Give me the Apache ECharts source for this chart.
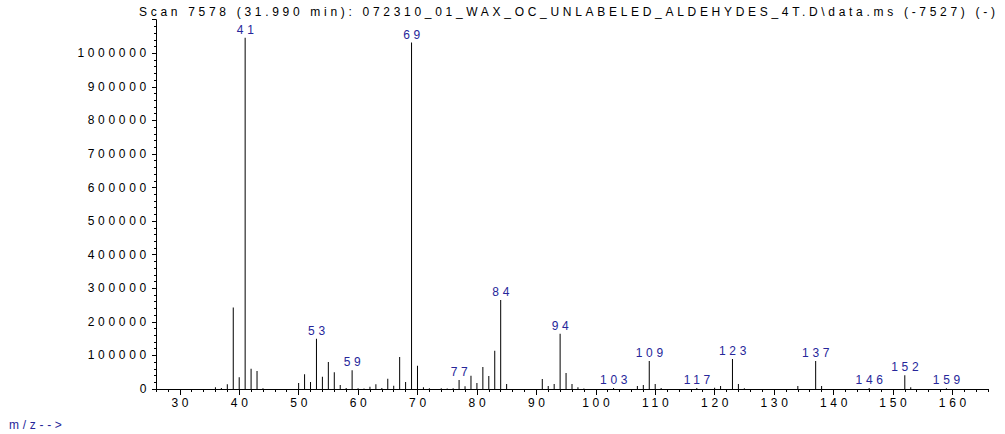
<!DOCTYPE html>
<html>
<head>
<meta charset="utf-8">
<title>Mass spectrum - scan 7578</title>
<script src="https://cdn.jsdelivr.net/npm/echarts@6/dist/echarts.min.js"></script>
<style>
  html, body { margin: 0; padding: 0; background: #fff; }
  #chart { width: 1005px; height: 434px; }
  /* instrument-style wide lettering */
  #chart svg text { letter-spacing: 3.7px; }
</style>
</head>
<body>
<div id="chart"></div>
<script>
// m/z values of the detected ions
const mz = [36, 37, 38, 39, 40, 41, 42, 43, 44, 50, 51, 52, 53, 54, 55, 56, 57, 58, 59, 60,
            61, 62, 63, 64, 65, 66, 67, 68, 69, 70, 71, 72, 74, 75, 76, 77, 78, 79, 80, 81,
            82, 83, 84, 85, 91, 92, 93, 94, 95, 96, 97, 98, 103, 107, 108, 109, 110, 111, 117, 120,
            121, 123, 124, 125, 134, 137, 138, 146, 152, 153, 159];
// abundance for each m/z above
const abundance = [5000, 3000, 14000, 243000, 34800, 1046000, 60500, 53600, 2500, 17900, 43700, 20900, 149800, 36700, 80400, 49600, 11900, 3000, 55600, 2000,
                   1500, 7000, 14000, 3000, 30700, 9900, 95300, 20900, 1032000, 69400, 5000, 2000, 2000, 1500, 2000, 26800, 8000, 39700, 17900, 65500,
                   38700, 114100, 265100, 14900, 29800, 9000, 14900, 164700, 47700, 14900, 5000, 1500, 3000, 9000, 11900, 83400, 14900, 3000, 3000, 4000,
                   9000, 89400, 14900, 2000, 9000, 83400, 9000, 3000, 40800, 5000, 2500];
// ions annotated with their m/z
const labelled = [41, 53, 59, 69, 77, 84, 94, 103, 109, 117, 123, 137, 146, 152, 159];
// axis tick labels
const xTickLabels = [30, 40, 50, 60, 70, 80, 90, 100, 110, 120, 130, 140, 150, 160];
const yTickLabels = [0, 100000, 200000, 300000, 400000, 500000, 600000, 700000, 800000, 900000, 1000000];

const titleText = 'Scan 7578 (31.990 min): 072310_01_WAX_OC_UNLABELED_ALDEHYDES_4T.D\\data.ms (-7527) (-)';
const FONT = "'Liberation Sans', Arial, sans-serif";
const PEAK_BLUE = '#26269a';

const seriesData = mz.map((m, i) => {
  const item = { value: [m, abundance[i]] };
  if (labelled.includes(m)) {
    item.label = {
      show: true, position: 'top', distance: 2,
      formatter: String(m), color: PEAK_BLUE, fontSize: 12, fontFamily: FONT,
      offset: [2, 0]
    };
  }
  return item;
});

const chart = echarts.init(document.getElementById('chart'), null, { renderer: 'svg' });
chart.setOption({
  animation: false,
  backgroundColor: '#ffffff',
  textStyle: { fontFamily: FONT },
  title: {
    text: titleText,
    left: 134, top: 1,
    textStyle: { fontSize: 12, fontWeight: 'normal', color: '#000', fontFamily: FONT }
  },
  graphic: [{
    type: 'text', left: 9, top: 419,
    style: { text: 'm/z-->', fill: PEAK_BLUE, font: '12px ' + FONT }
  }],
  grid: { left: 156, right: 17, top: 19.7, bottom: 45, containLabel: false },
  xAxis: [{
    type: 'value', min: 26, max: 166, interval: 2,
    axisLine: { lineStyle: { color: '#000', width: 1 } },
    axisTick: { length: 3, lineStyle: { color: '#000' } },
    axisLabel: {
      customValues: xTickLabels, color: '#000', fontSize: 12, margin: 8,
      fontFamily: FONT, padding: [0, 0, 0, 4],
      formatter: (v) => String(v)
    },
    splitLine: { show: false }
  }, {
    type: 'value', min: 26, max: 166, interval: 2, position: 'bottom',
    axisLine: { show: false },
    axisTick: { customValues: xTickLabels, length: 6, lineStyle: { color: '#000' } },
    axisLabel: { show: false },
    splitLine: { show: false }
  }],
  yAxis: {
    type: 'value', min: 0, max: 1100000, interval: 100000,
    axisLine: { show: true, lineStyle: { color: '#000', width: 1 } },
    axisTick: { show: true, length: 4, lineStyle: { color: '#000' } },
    minorTick: { show: true, splitNumber: 5, length: 2, lineStyle: { color: '#000' } },
    axisLabel: {
      customValues: yTickLabels, color: '#000', fontSize: 12, margin: 6, fontFamily: FONT,
      formatter: (v) => String(v)
    },
    splitLine: { show: false }
  },
  series: [{
    type: 'bar',
    xAxisIndex: 0,
    barWidth: 1,
    itemStyle: { color: '#000' },
    data: seriesData
  }]
});
</script>
</body>
</html>
